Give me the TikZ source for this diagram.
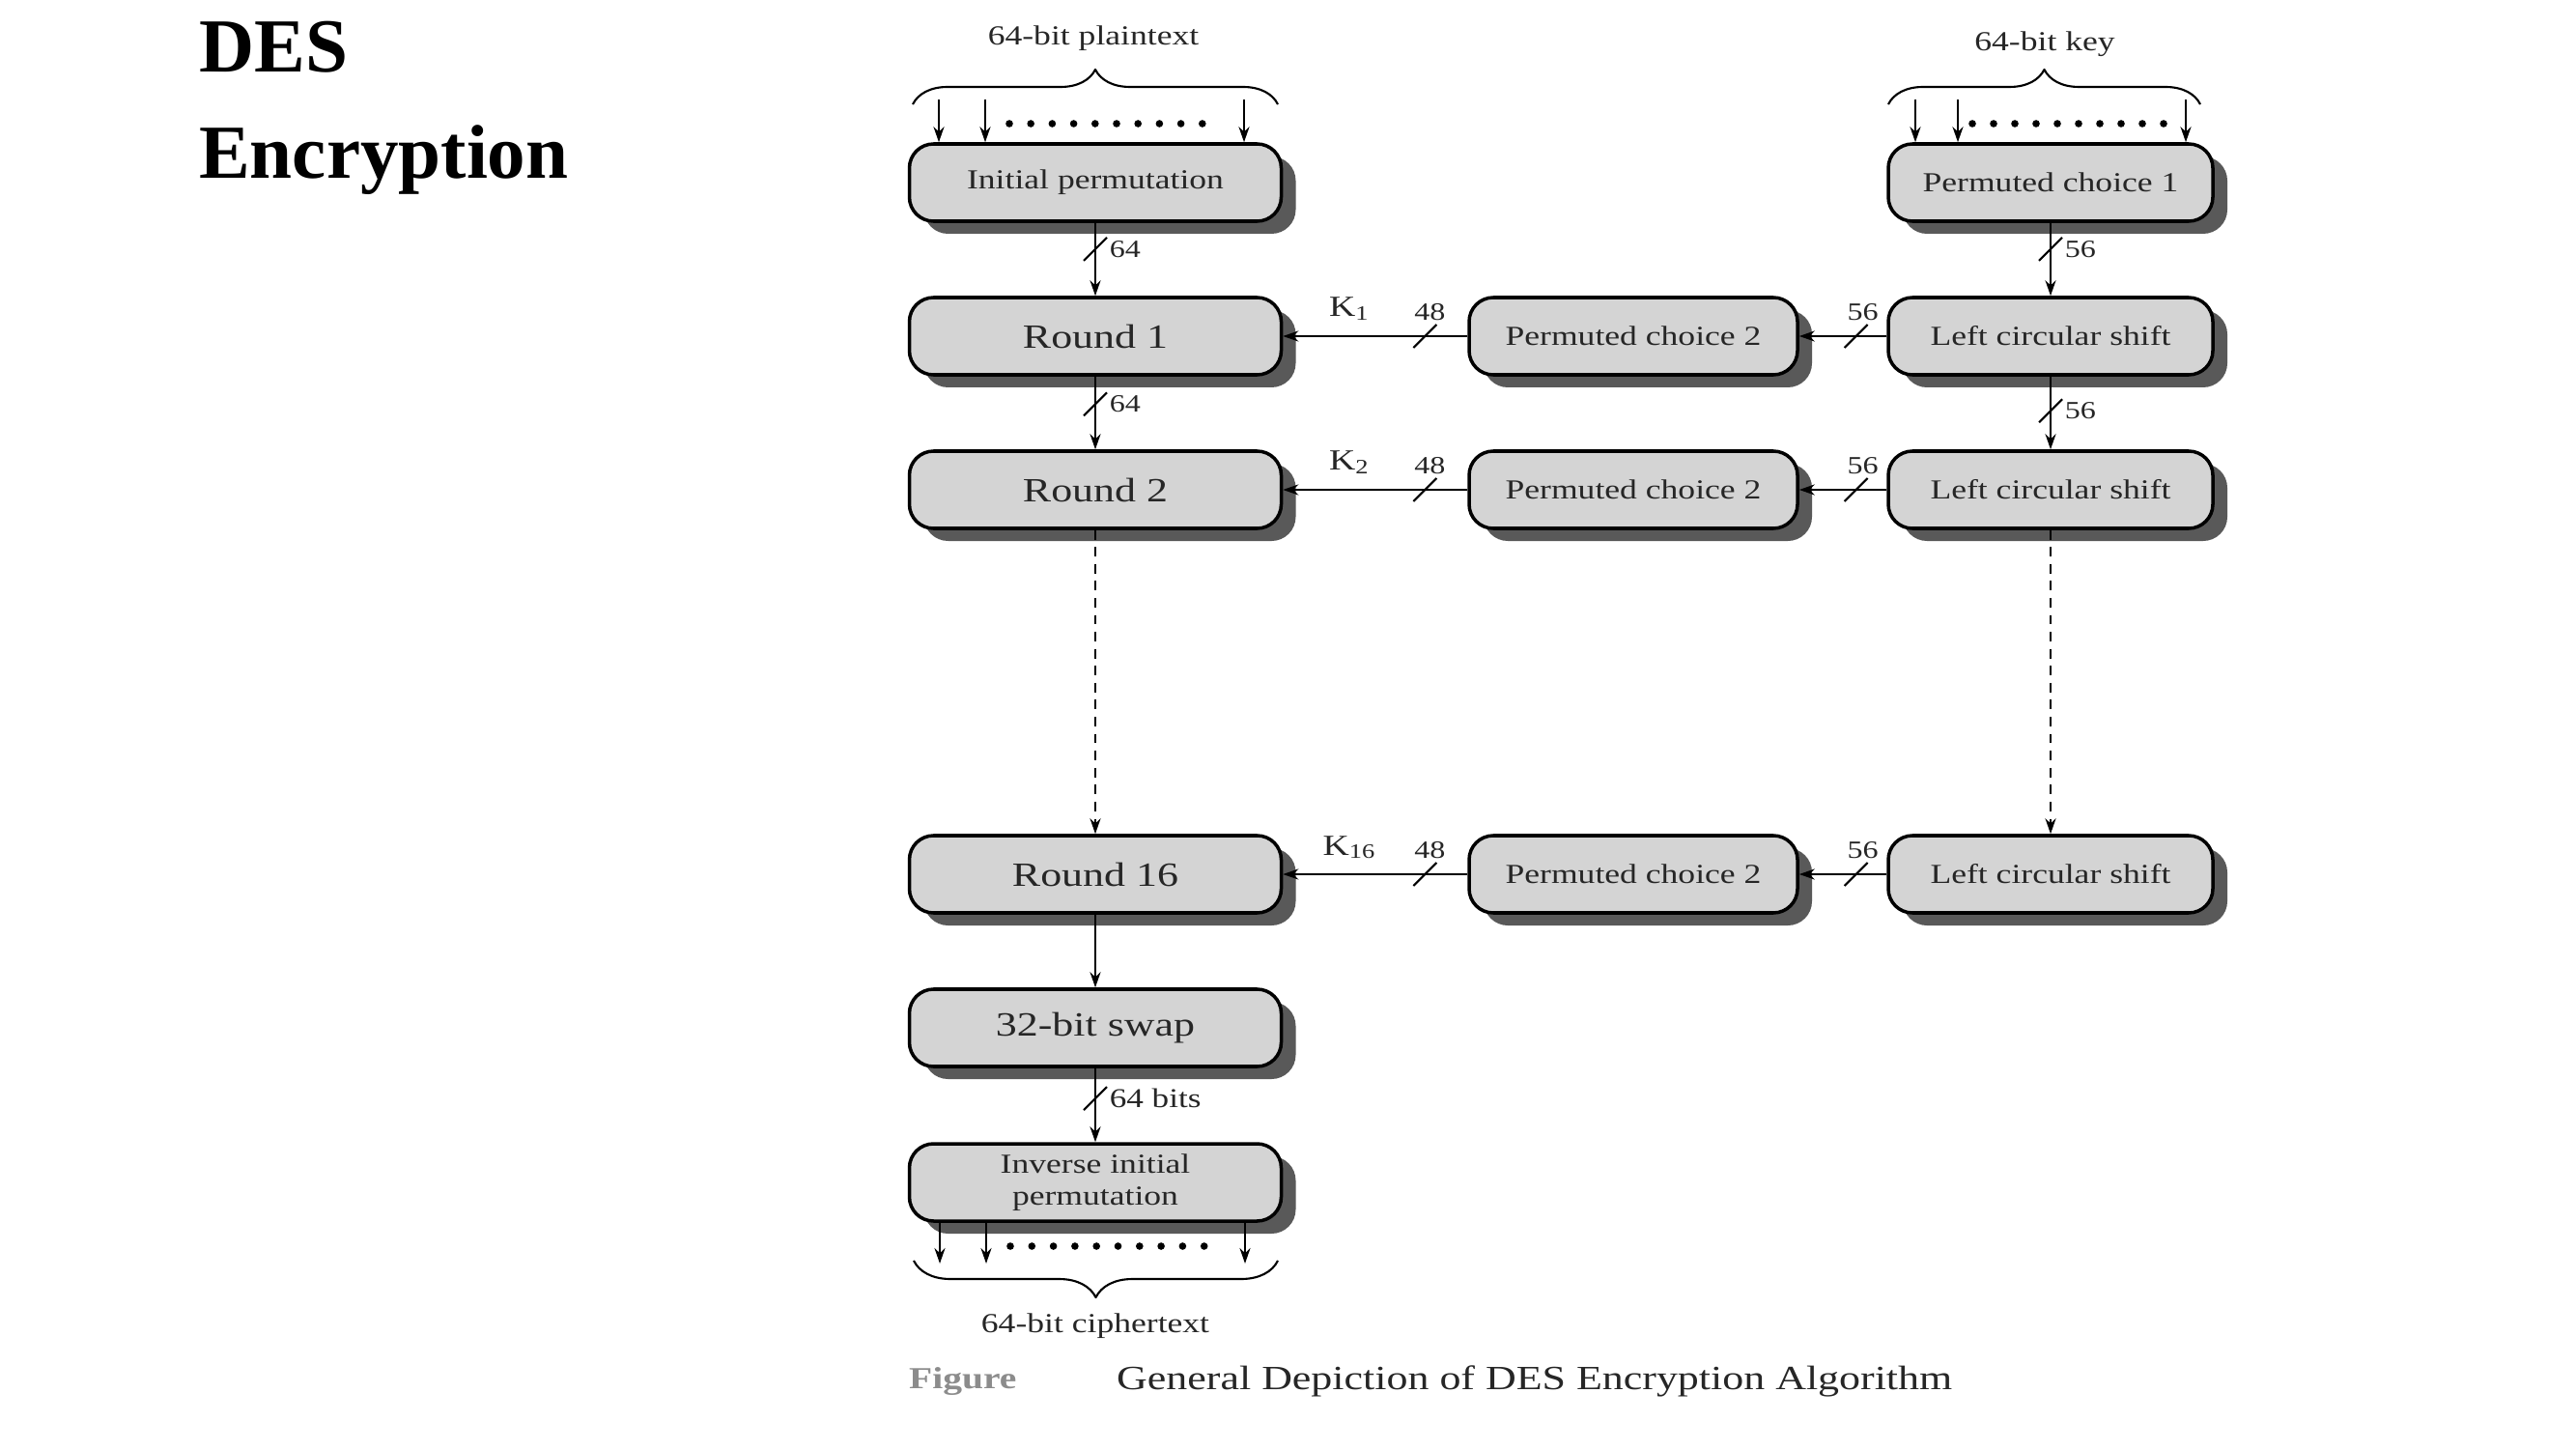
\documentclass[tikz,border=0pt]{standalone}
\usepackage{fontspec}
\setmainfont{Liberation Serif}
\newfontfamily\diagfont{Liberation Serif}[FakeStretch=1.25]
\usetikzlibrary{arrows.meta,shadows,decorations.pathreplacing}
\tikzset{
  blk/.style={draw,line width=1pt,rounded corners=0.25cm,fill=black!17,inner sep=0pt,minimum height=0.8cm,text=black!85,
    drop shadow={shadow xshift=0.15cm,shadow yshift=-0.13cm,fill=black!65,opacity=1}},
  small/.style={font=\diagfont\fontsize{8.1}{9.4}\selectfont},
  big/.style={font=\diagfont\fontsize{10}{12}\selectfont},
  bits/.style={font=\diagfont\fontsize{7.3}{8}\selectfont,text=black!85,inner sep=1pt},
  lbl/.style={font=\diagfont\fontsize{8.1}{9.4}\selectfont,text=black!85,inner sep=1pt},
  brc/.style={decorate,decoration={brace,amplitude=#1}},
  ttl/.style={anchor=base west,inner sep=0pt,font=\fontsize{22.5}{27}\selectfont\bfseries},
}
\begin{document}
\begin{tikzpicture}[>={Stealth[length=0.16cm,width=0.11cm]},line join=round,line width=0.7pt]
\useasboundingbox (0,0) rectangle (26.67,15);
% title
\node[ttl] (t1) at (2.05,14.25) {DES};
\node[ttl] (t2) at (2.05,13.15) {Encryption};
% top boxes
\node[blk,small,minimum width=3.85cm] (ip) at (11.34,13.11) {Initial permutation};
\node[blk,small,minimum width=3.36cm] (pca) at (21.23,13.11) {Permuted choice 1};
\foreach \n/\y in {1/11.52,2/9.93,16/5.95}{
  \node[blk,big,minimum width=3.85cm] (r\n) at (11.34,\y) {Round \n};
  \node[blk,small,minimum width=3.40cm] (pcb\n) at (16.91,\y) {Permuted choice 2};
  \node[blk,small,minimum width=3.36cm] (ls\n) at (21.23,\y) {Left circular shift};
  \draw[->] (ls\n) -- coordinate[pos=.35] (a\n) (pcb\n);
  \draw[->] (pcb\n) -- coordinate[pos=.23] (b\n) (r\n);
  \node[bits,anchor=south] (m\n) at ([xshift=0.07cm,yshift=0.12cm]a\n) {56};
  \node[bits,anchor=south] (n\n) at ([xshift=0.05cm,yshift=0.12cm]b\n) {48};
  \node[lbl,anchor=base,font=\diagfont\fontsize{8.6}{10}\selectfont] (k\n) at ([xshift=-0.78cm,yshift=0.2cm]b\n) {K\textsubscript{\n}};
}
\node[blk,big,minimum width=3.85cm] (sw) at (11.34,4.36) {32-bit swap};
\node[blk,small,minimum width=3.85cm,align=center] (inv) at (11.34,2.76) {Inverse initial\\permutation};
% vertical links
\draw[->] (ip) -- coordinate[pos=.36] (v1) (r1);
\draw[->] (r1) -- coordinate[pos=.38] (v2) (r2);
\draw[->,dash pattern=on 2.8pt off 2.2pt] (r2) -- (r16);
\draw[->] (r16) -- (sw);
\draw[->] (sw) -- coordinate[pos=.41] (v3) (inv);
\draw[->] (pca) -- coordinate[pos=.36] (w1) (ls1);
\draw[->] (ls1) -- coordinate[pos=.47] (w2) (ls2);
\draw[->,dash pattern=on 2.8pt off 2.2pt] (ls2) -- (ls16);
\foreach \c in {v1,v2,v3,w1,w2,a1,a2,a16,b1,b2,b16}{\draw[line width=0.6pt] (\c) ++(-0.12,-0.12) -- ++(0.24,0.24);}
\node[bits,anchor=west] (e1) at ([xshift=0.1cm]v1) {64};
\node[bits,anchor=west] (e2) at ([xshift=0.1cm]v2) {64};
\node[bits,anchor=west,font=\diagfont\fontsize{8}{9}\selectfont] (e3) at ([xshift=0.1cm]v3) {64 bits};
\node[bits,anchor=west] (f1) at ([xshift=0.1cm]w1) {56};
\node[bits,anchor=west] (f2) at ([xshift=0.1cm]w2) {56};
% input and output bits
\coordinate (pt) at (11.34,13.97);
\coordinate (kt) at (21.23,13.97);
\coordinate (ct) at (11.34,1.92);
\foreach \x in {9.72,10.20,12.88}{\draw[->] (\x,0 |- pt) -- (\x,0 |- ip.north);}
\foreach \x in {19.83,20.27,22.63}{\draw[->] (\x,0 |- kt) -- (\x,0 |- pca.north);}
\foreach \x in {9.73,10.21,12.89}{\draw[->] (\x,0 |- inv.south) -- (\x,0 |- ct);}
\foreach \i in {0,...,9}{
  \fill (10.45+\i*0.222,13.72) circle (0.038);
  \fill (20.42+\i*0.22,13.72) circle (0.038);
  \fill (10.46+\i*0.223,2.10) circle (0.038);}
\draw[brc=0.36cm,line width=0.6pt] (9.45,13.92) -- (13.23,13.92);
\draw[brc=0.36cm,line width=0.6pt] (19.55,13.92) -- (22.78,13.92);
\draw[brc=0.38cm,line width=0.6pt] (13.23,1.95) -- (9.46,1.95);
\node[lbl] (plain) at (11.32,14.60) {64-bit plaintext};
\node[lbl] (key) at (21.17,14.54) {64-bit key};
\node[lbl] (ciph) at (11.34,1.27) {64-bit ciphertext};
% caption
\node[anchor=west,inner sep=0pt,text=black!45,font=\diagfont\fontsize{9}{11}\selectfont\bfseries] (fig) at (9.40,0.70) {Figure};
\node[anchor=west,inner sep=0pt,text=black!85,font=\diagfont\fontsize{10}{12}\selectfont] (cap) at (11.55,0.70) {General Depiction of DES Encryption Algorithm};
\end{tikzpicture}
\end{document}
